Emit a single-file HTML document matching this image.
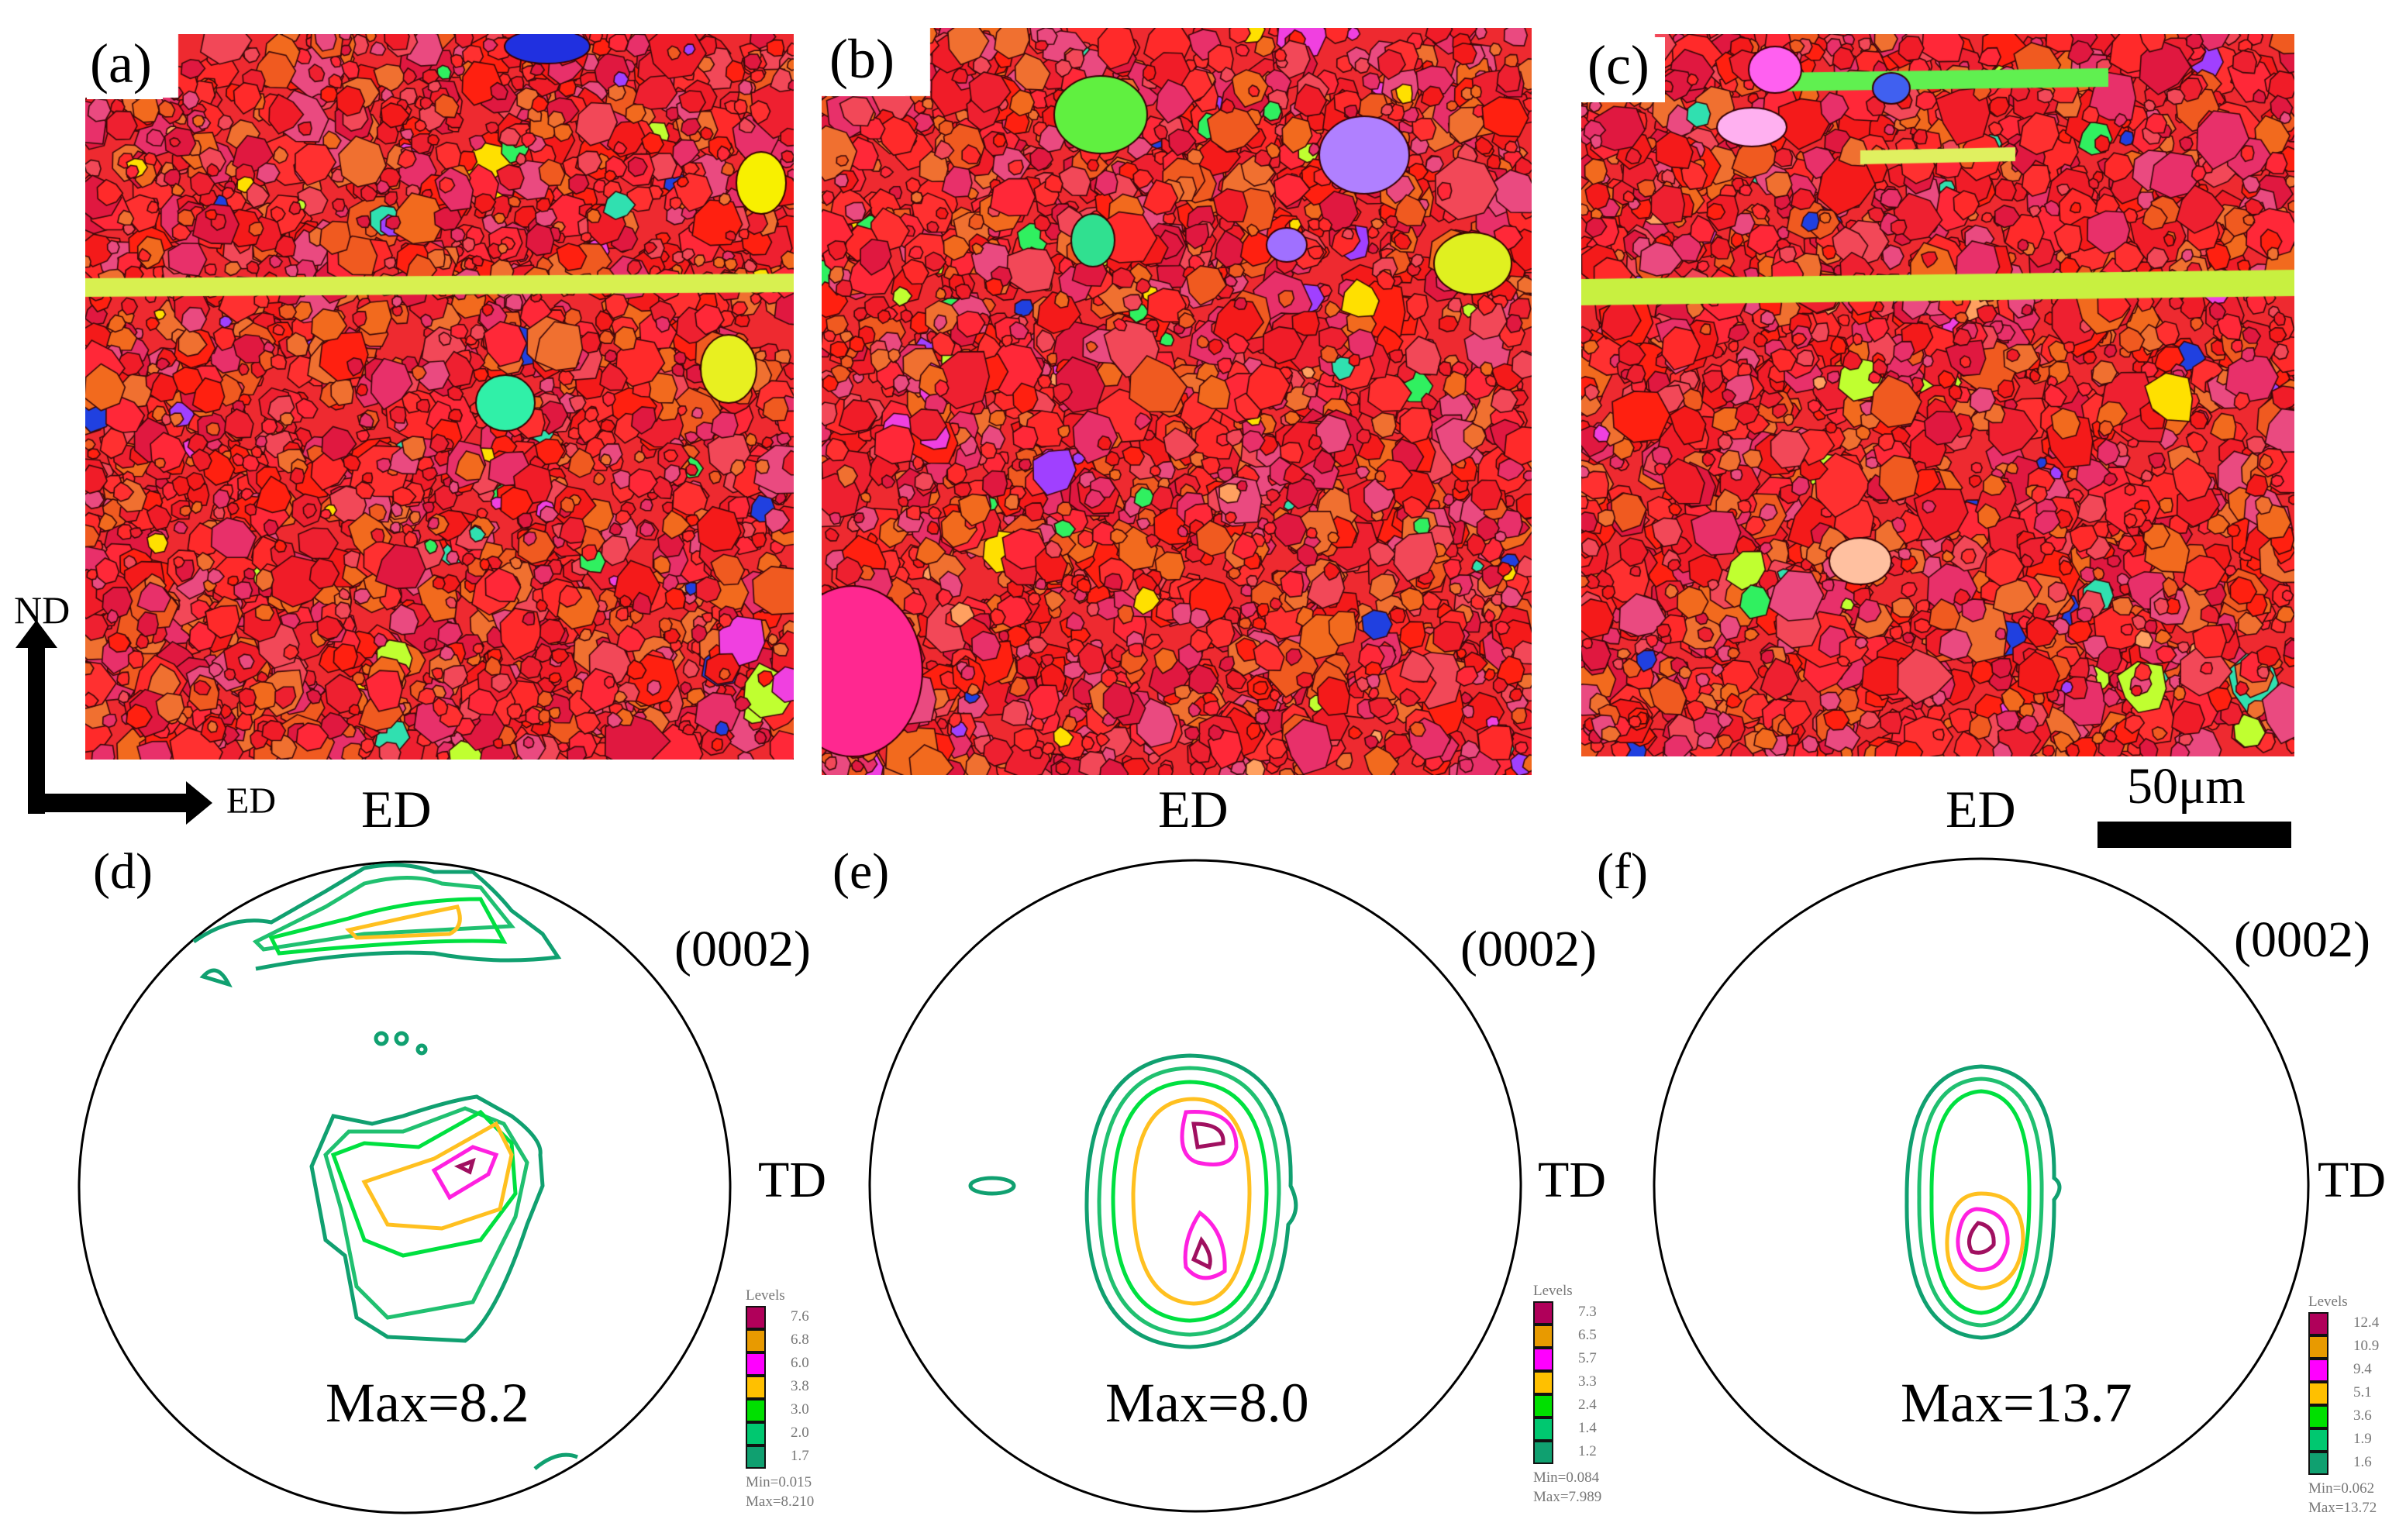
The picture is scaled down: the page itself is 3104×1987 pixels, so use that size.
<!DOCTYPE html>
<html><head><meta charset="utf-8"><style>
body{margin:0;background:#fff;width:3104px;height:1987px;overflow:hidden;position:relative;font-family:"Liberation Serif",serif}
canvas{position:absolute}
.t{position:absolute;color:#000;white-space:nowrap;line-height:1}
</style></head><body>
<canvas id="ma" style="left:110px;top:44px" width="914" height="936"></canvas>
<canvas id="mb" style="left:1060px;top:36px" width="916" height="964"></canvas>
<canvas id="mc" style="left:2040px;top:44px" width="920" height="932"></canvas>
<div class="t" style="left:112px;top:46px;font-size:72px;background:#fff;padding:0 14px 10px 4px">(a)</div>
<div class="t" style="left:1066px;top:40px;font-size:72px;background:#fff;padding:0 14px 12px 4px">(b)</div>
<div class="t" style="left:2040px;top:48px;font-size:72px;background:#fff;padding:0 20px 12px 8px">(c)</div>
<svg width="3104" height="1987" style="position:absolute;left:0;top:0">
<g>
<rect x="36" y="830" width="22" height="220" fill="#000"/><polygon points="20,836 47,800 74,836" fill="#000"/>
<rect x="36" y="1024" width="210" height="24" fill="#000"/><polygon points="240,1008 274,1036 240,1064" fill="#000"/>
</g>
<rect x="2706" y="1060" width="250" height="34" fill="#000"/>
<g fill="none" stroke="#000" stroke-width="3">
<circle cx="522" cy="1532" r="420"/>
<circle cx="1542" cy="1530" r="420"/>
<circle cx="2556" cy="1530" r="422"/>
</g>
<g fill="none" stroke-width="5">
<path stroke="#10a070" d="M250,1215 Q300,1180 350,1190 L420,1150 L470,1120 Q520,1110 560,1125 L610,1125 Q640,1150 660,1175 L700,1205 L720,1235 Q640,1245 560,1230 Q460,1225 330,1250"/>
<path stroke="#20c070" d="M330,1215 L420,1170 L470,1140 Q530,1125 570,1140 L620,1145 L660,1195 Q560,1200 470,1205 L340,1225 Z"/>
<path stroke="#00e040" d="M350,1210 L450,1185 Q530,1160 620,1160 L650,1215 Q560,1210 360,1230 Z"/>
<path stroke="#ffc020" d="M450,1200 Q540,1180 590,1170 Q600,1195 580,1205 L460,1210 Z"/>
<path stroke="#10a070" d="M402,1505 L430,1440 L480,1450 L520,1440 Q580,1420 615,1415 L660,1440 Q700,1470 697,1490 L700,1530 L680,1580 Q640,1700 600,1730 L500,1725 L460,1700 L445,1620 L420,1600 Z"/>
<path stroke="#20c070" d="M420,1490 L450,1460 L520,1460 L600,1430 L650,1450 L680,1500 L665,1570 L610,1680 L500,1700 L460,1660 L440,1560 Z"/>
<path stroke="#00e040" d="M430,1490 L470,1475 L540,1480 L620,1435 L660,1475 L665,1540 L620,1600 L520,1620 L470,1600 Z"/>
<path stroke="#ffc020" d="M470,1525 L560,1495 L640,1450 L660,1490 L645,1560 L570,1585 L500,1580 Z"/>
<path stroke="#ff20e0" d="M560,1510 L610,1480 L640,1490 L630,1515 L580,1545 Z"/>
<path stroke="#a01060" d="M592,1505 L610,1498 L606,1512 Z"/>
<g stroke="#10a070"><circle cx="492" cy="1340" r="7"/><circle cx="518" cy="1340" r="7"/><circle cx="544" cy="1354" r="5"/><path d="M262,1260 Q280,1240 295,1270 Z"/><path d="M690,1895 Q720,1870 745,1880"/></g>
<path stroke="#10a070" d="M1535,1362 Q1670,1365 1665,1530 Q1680,1560 1662,1580 Q1650,1735 1535,1738 Q1405,1735 1402,1560 Q1400,1365 1535,1362 Z"/>
<path stroke="#20c070" d="M1535,1378 Q1652,1380 1650,1540 Q1645,1718 1535,1722 Q1418,1718 1418,1550 Q1420,1380 1535,1378 Z"/>
<path stroke="#00e040" d="M1535,1396 Q1634,1398 1634,1540 Q1630,1700 1535,1704 Q1436,1700 1436,1545 Q1438,1398 1535,1396 Z"/>
<path stroke="#ffc020" d="M1540,1418 Q1612,1420 1612,1540 Q1610,1680 1540,1682 Q1462,1678 1462,1540 Q1465,1418 1540,1418 Z"/>
<path stroke="#ff20e0" d="M1530,1435 Q1595,1430 1595,1480 Q1590,1510 1545,1500 Q1515,1490 1530,1435 Z M1548,1565 Q1582,1590 1580,1640 Q1550,1660 1530,1635 Q1525,1600 1548,1565 Z"/>
<path stroke="#a01060" d="M1540,1450 Q1580,1450 1578,1475 L1545,1480 Z M1550,1600 Q1565,1620 1560,1635 L1540,1625 Z"/>
<ellipse stroke="#10a070" cx="1280" cy="1530" rx="28" ry="10"/>
<path stroke="#10a070" d="M2556,1376 Q2652,1380 2650,1520 Q2664,1530 2650,1548 Q2652,1722 2556,1726 Q2458,1720 2460,1550 Q2458,1380 2556,1376 Z"/>
<path stroke="#20c070" d="M2556,1392 Q2636,1395 2634,1540 Q2634,1705 2556,1710 Q2474,1705 2476,1545 Q2474,1395 2556,1392 Z"/>
<path stroke="#00e040" d="M2556,1408 Q2620,1412 2618,1545 Q2618,1690 2556,1694 Q2490,1690 2492,1545 Q2490,1412 2556,1408 Z"/>
<path stroke="#ffc020" d="M2556,1540 Q2610,1540 2610,1600 Q2605,1660 2556,1662 Q2510,1656 2512,1600 Q2515,1540 2556,1540 Z"/>
<path stroke="#ff20e0" d="M2550,1560 Q2592,1562 2590,1605 Q2582,1642 2550,1638 Q2524,1628 2526,1598 Q2530,1562 2550,1560 Z"/>
<path stroke="#a01060" d="M2552,1578 Q2574,1582 2572,1606 Q2560,1620 2544,1615 Q2534,1598 2552,1578 Z"/>
</g>
</svg>
<div class="t" style="left:292px;top:1010px;font-size:48px">ED</div>
<div class="t" style="left:18px;top:762px;font-size:50px">ND</div>
<div class="t" style="left:2744px;top:982px;font-size:66px">50μm</div>
<div class="t" style="left:466px;top:1010px;font-size:68px">ED</div>
<div class="t" style="left:1494px;top:1010px;font-size:68px">ED</div>
<div class="t" style="left:2510px;top:1010px;font-size:68px">ED</div>
<div class="t" style="left:120px;top:1092px;font-size:66px">(d)</div>
<div class="t" style="left:1074px;top:1092px;font-size:66px">(e)</div>
<div class="t" style="left:2060px;top:1092px;font-size:66px">(f)</div>
<div class="t" style="left:870px;top:1192px;font-size:66px">(0002)</div>
<div class="t" style="left:1884px;top:1192px;font-size:66px">(0002)</div>
<div class="t" style="left:2882px;top:1180px;font-size:66px">(0002)</div>
<div class="t" style="left:978px;top:1490px;font-size:66px">TD</div>
<div class="t" style="left:1984px;top:1490px;font-size:66px">TD</div>
<div class="t" style="left:2990px;top:1490px;font-size:66px">TD</div>
<div class="t" style="left:420px;top:1774px;font-size:72px">Max=8.2</div>
<div class="t" style="left:1426px;top:1774px;font-size:72px">Max=8.0</div>
<div class="t" style="left:2452px;top:1774px;font-size:72px">Max=13.7</div>
<div id="legends"></div>
<script>
const legendLevelsD=["7.6","6.8","6.0","3.8","3.0","2.0","1.7"];
const legendLevelsE=["7.3","6.5","5.7","3.3","2.4","1.4","1.2"];
const legendLevelsF=["12.4","10.9","9.4","5.1","3.6","1.9","1.6"];
const legendMinMax=[["Min=0.015","Max=8.210"],["Min=0.084","Max=7.989"],["Min=0.062","Max=13.72"]];
const legendColors=["#b0005a","#e89a00","#ff00ff","#ffc000","#00e000","#00c870","#10a070"];
const legX=[962,1978,2978];
const legY=[1662,1656,1670];
[legendLevelsD,legendLevelsE,legendLevelsF].forEach((lv,i)=>{
 const d=document.createElement('div');
 
 
 d.style.cssText=`position:absolute;left:${legX[i]}px;top:${legY[i]}px;font-size:19px;color:#777;font-family:"Liberation Serif",serif;line-height:1`;
 let h='<div>Levels</div><div style="position:relative;height:216px">';
 lv.forEach((v,k)=>{h+=`<div style="position:absolute;left:0;top:${4+k*30}px;width:22px;height:26px;background:${legendColors[k]};border:2px solid #111"></div><div style="position:absolute;left:58px;top:${8+k*30}px">${v}</div>`;});
 h+=`</div><div style="margin-top:6px">${legendMinMax[i][0]}</div><div style="margin-top:6px">${legendMinMax[i][1]}</div>`;
 d.innerHTML=h;document.getElementById('legends').appendChild(d);
});
let seed=7;function rnd(){seed=(seed*16807)%2147483647;return seed/2147483647;}
const pal=["#f01c28","#ee2030","#ff2a2a","#f05a20","#f26a1e","#e8306a","#f24858","#ff3030","#e01840","#f07030","#ff2010","#ea4a80","#f41a1a","#ff2838"];
const rare=["#ffe000","#30f060","#2040e0","#f040e0","#30e0b0","#ffa060","#a040ff","#c0ff30"];
function grains(id,notchW,notchH,bands,bigs){
 const c=document.getElementById(id),x=c.getContext('2d'),W=c.width,H=c.height;
 x.fillStyle="#ee2a30";x.fillRect(0,0,W,H);
 for(let i=0;i<2600;i++){
  const cx=rnd()*W,cy=rnd()*H,r=7+rnd()*rnd()*34;
  x.beginPath();
  const n=7;for(let k=0;k<n;k++){const a=k/n*6.283,rr=r*(0.8+rnd()*0.35);x.lineTo(cx+Math.cos(a)*rr,cy+Math.sin(a)*rr);}
  x.closePath();
  x.fillStyle=rnd()<0.03?rare[Math.floor(rnd()*rare.length)]:pal[Math.floor(rnd()*pal.length)];
  x.fill();x.strokeStyle="#3a0808";x.lineWidth=1.6;x.stroke();
 }
 bands.forEach(b=>{x.fillStyle=b[5];x.beginPath();x.moveTo(b[0],b[1]);x.lineTo(b[2],b[1]+b[4]);x.lineTo(b[2],b[1]+b[4]+b[3]);x.lineTo(b[0],b[1]+b[3]);x.fill();});
 bigs.forEach(g=>{x.beginPath();x.ellipse(g[0],g[1],g[2],g[3],0,0,6.283);x.fillStyle=g[4];x.fill();x.strokeStyle="#300";x.lineWidth=2;x.stroke();});
 x.fillStyle="#fff";x.fillRect(0,0,notchW,notchH);
}
grains('ma',120,82,[[0,315,914,24,-6,"#d8f050"]],[[542,476,38,36,"#30f0a8"],[830,432,36,44,"#e8f020"],[872,192,32,40,"#f8f000"],[596,16,55,22,"#2030e0"]]);
grains('mb',140,88,[],[[40,830,90,110,"#ff2890"],[360,112,60,50,"#60f040"],[700,164,58,50,"#b080ff"],[840,304,50,40,"#e0f020"],[350,274,28,34,"#30e090"],[600,280,26,22,"#a070ff"]]);
grains('mc',95,80,[[0,316,920,34,-12,"#c8f040"],[240,50,680,24,-6,"#60f050"],[360,150,560,18,-4,"#e0f060"]],[[250,46,34,30,"#ff60f0"],[400,70,24,20,"#4060f0"],[220,120,45,25,"#ffb0f0"],[360,680,40,30,"#ffc0a0"]]);
</script>
</body></html>
